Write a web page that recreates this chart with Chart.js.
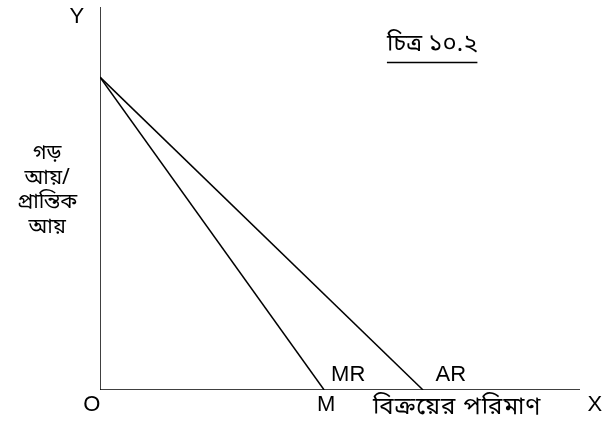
<!DOCTYPE html>
<html><head><meta charset="utf-8">
<script src="https://cdn.jsdelivr.net/npm/chart.js@4.4.0/dist/chart.umd.min.js"></script>
<style>html,body{margin:0;padding:0;background:#fff}#wrap{width:604px;height:431px}</style>
</head><body><div id="wrap"><canvas id="c" width="604" height="431"></canvas></div>
<script>
// Data (in chart units: x 0..100, y 0..100)
const yIntercept = 81.7;      // common vertical intercept of AR and MR
const mrEndX = [46.7];        // M : MR meets the X axis
const arEndX = [67.3];        // AR meets the X axis
const axisMax = [100, 100];   // x max, y max
const seriesNames = ['MR', 'AR'];

const latin = '"Liberation Sans", Arial, sans-serif';
const bengali = '"Noto Sans Bengali", "Lohit Bengali", "Noto Serif Bengali", sans-serif';

const labels = [
  {t:'Y', x:-4.8, y:97.5, f:'22px ' + latin},
  {t:'O', x:-1.7, y:-4, f:'22px ' + latin},
  {t:'M', x:mrEndX[0] + 0.4, y:-4, f:'22px ' + latin},
  {t:'X', x:103.1, y:-4, f:'22px ' + latin},
  {t:'MR', x:mrEndX[0] + 5, y:4, f:'22px ' + latin},
  {t:'AR', x:arEndX[0] + 5.8, y:4, f:'22px ' + latin},
  {t:'বিক্রয়ের পরিমাণ', x:74.4, y:-5.0, f:'24px ' + bengali, ls:'1px'},
  {t:'গড়', x:-11.0, y:61.3, f:'21px ' + bengali},
  {t:'আয়/', x:-11.0, y:54.8, f:'21px ' + bengali},
  {t:'প্রান্তিক', x:-11.0, y:48.5, f:'21px ' + bengali},
  {t:'আয়', x:-11.0, y:42.0, f:'21px ' + bengali},
  {t:'চিত্র ১০.২', x:69.2, y:89.7, f:'24px ' + bengali, u:true}
];

const textPlugin = {
  id:'texts',
  afterDraw(chart){
    const {ctx, scales:{x, y}} = chart;
    ctx.save();
    ctx.fillStyle = '#000';
    ctx.textAlign = 'center';
    ctx.textBaseline = 'middle';
    for (const l of labels){
      ctx.font = l.f;
      ctx.letterSpacing = l.ls || '0px';
      const px = x.getPixelForValue(l.x), py = y.getPixelForValue(l.y);
      ctx.fillText(l.t, px, py);
      if (l.u){
        const w = ctx.measureText(l.t).width;
        ctx.beginPath();
        ctx.lineWidth = 1.5;
        ctx.moveTo(px - w/2, py + 16);
        ctx.lineTo(px + w/2, py + 16);
        ctx.stroke();
      }
    }
    ctx.restore();
  }
};

const line = (pts) => ({data:pts, showLine:true, borderColor:'#000', borderWidth:1.5, pointRadius:0, fill:false, tension:0});

new Chart(document.getElementById('c'), {
  type:'scatter',
  data:{datasets:[
    line([{x:0,y:0},{x:0,y:axisMax[1]}]),
    line([{x:0,y:0},{x:axisMax[0],y:0}]),
    Object.assign(line([{x:0,y:yIntercept},{x:mrEndX[0],y:0}]), {label:seriesNames[0]}),
    Object.assign(line([{x:0,y:yIntercept},{x:arEndX[0],y:0}]), {label:seriesNames[1]})
  ]},
  options:{
    responsive:false, animation:false, devicePixelRatio:1,
    layout:{padding:{left:100, right:24, top:7, bottom:41}},
    plugins:{legend:{display:false}, tooltip:{enabled:false}},
    scales:{
      x:{type:'linear', min:0, max:axisMax[0], display:false},
      y:{type:'linear', min:0, max:axisMax[1], display:false}
    }
  },
  plugins:[textPlugin]
});
</script></body></html>
